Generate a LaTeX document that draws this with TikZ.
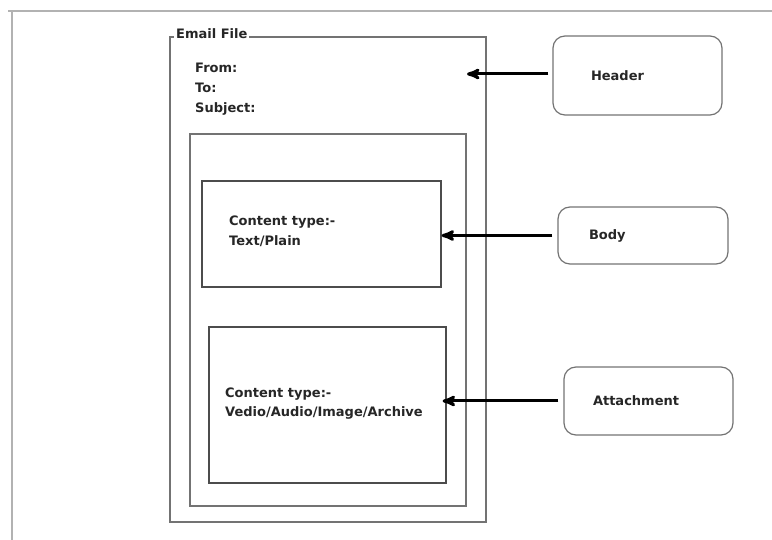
\documentclass[tikz,border=0pt]{standalone}
\usepackage{fontspec}
\setmainfont{DejaVu Sans}
\usetikzlibrary{arrows,positioning}

\begin{document}
\begin{tikzpicture}[x=1pt,y=-1pt]
  % Colors
  \colorlet{framecolor}{black!30}
  \colorlet{boxcolor}{black!55}
  \colorlet{textcolor}{black!85}

  % Styles
  \tikzstyle{part box}=[draw=boxcolor,line width=1.2pt,inner sep=0pt]
  \tikzstyle{label box}=[part box,rounded corners=12pt,text=textcolor,
    font=\fontsize{13}{20}\selectfont\bfseries]
  \tikzstyle{field text}=[anchor=base west,inner sep=0pt,text=textcolor,
    font=\fontsize{13}{20}\selectfont\bfseries,align=left]
  \tikzstyle{pointer}=[-stealth',line width=3pt]

  \useasboundingbox (0,0) rectangle (772,540);

  % Page frame
  \draw[framecolor,line width=2pt] (8,11) -- (772,11);
  \draw[framecolor,line width=2pt] (12,11) -- (12,540);

  % The email file
  \node[part box,minimum width=316,minimum height=485] (file) at (328,279.5) {};
  \node[field text,fill=white,inner xsep=2pt,inner ysep=1pt] (filetitle)
    at (174,39) {Email File};
  \node[field text] (fields) at (195,113) {From:\\To:\\Subject:};

  \node[part box,minimum width=276,minimum height=372] (inner) at (328,320) {};

  \node[part box,draw=black!70,minimum width=239,minimum height=106] (bodypart)
    at (321.5,234) {};
  \node[field text] (bodytype) at (229,246) {Content type:-\\Text/Plain};

  \node[part box,draw=black!70,minimum width=237,minimum height=156] (attachpart)
    at (327.5,405) {};
  \node[field text] (attachtype) at (225,417)
    {Content type:-\\Vedio/Audio/Image/Archive};

  % The labels
  \node[label box,minimum width=169,minimum height=79,text width=93] (headertag)
    at (637.5,75.5) {Header};
  \node[label box,minimum width=170,minimum height=57,text width=108] (bodytag)
    at (643,235.5) {Body};
  \node[label box,minimum width=169,minimum height=68,text width=111] (attachtag)
    at (648.5,401) {Attachment};

  % Arrows
  \coordinate (headertip) at (467,74);
  \draw[pointer] (headertag.west |- headertip) ++(-4,0) -- (headertip);
  \draw[pointer] ([xshift=-5pt]bodytag.west) -- (bodytag.west -| bodypart.east);
  \draw[pointer] ([xshift=-5pt]attachtag.west)
    -- ([xshift=-4pt]attachtag.west -| attachpart.east);
\end{tikzpicture}
\end{document}
